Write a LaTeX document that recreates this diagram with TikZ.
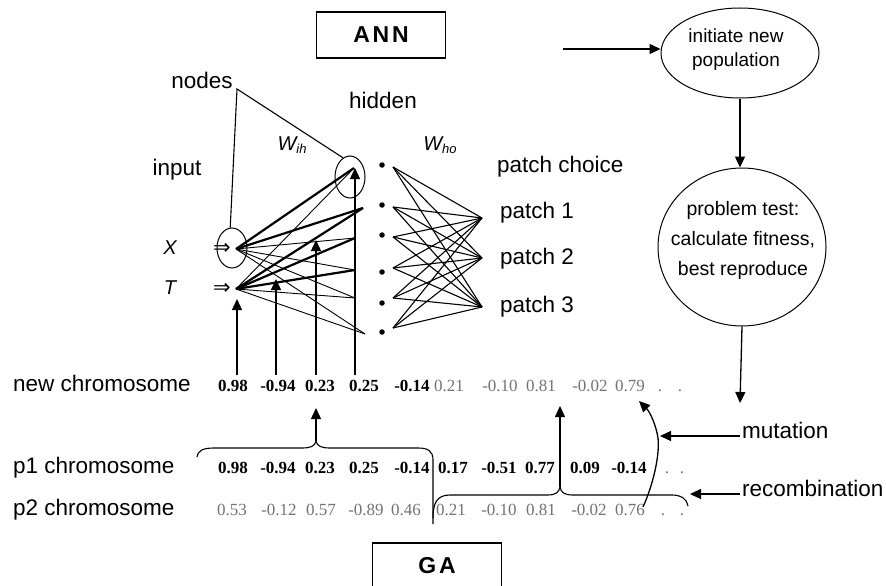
\documentclass[tikz,border=0pt]{standalone}
\usepackage{fontspec}
\setmainfont{Liberation Sans}
\newfontfamily\tms{Liberation Serif}
\newfontfamily\djv{DejaVu Sans}
\usetikzlibrary{arrows.meta,shapes.geometric}
\begin{document}
\begin{tikzpicture}[x=1pt,y=-1pt,
  lbl/.style={font=\fontsize{22.5}{26}\selectfont, inner sep=0pt},
  ital/.style={font=\itshape\fontsize{20}{24}\selectfont, inner sep=0pt},
  bval/.style={font=\tms\bfseries\fontsize{17}{18}\selectfont, inner sep=0pt, anchor=mid},
  lval/.style={font=\tms\fontsize{17}{18}\selectfont, text=black!55, inner sep=0pt, anchor=mid},
  arr/.style={-{Triangle[length=11pt,width=10pt]}, line width=1.3pt},
  thinw/.style={line width=0.9pt},
  boldw/.style={line width=2.2pt},
  conn/.style={line width=1.1pt},
  dot/.style={circle, fill, inner sep=0pt, minimum size=5.5pt},
  boxed/.style={draw, line width=1.3pt, minimum width=129pt, minimum height=46pt, inner sep=0pt,
     font=\bfseries\fontsize{23}{26}\selectfont\addfontfeatures{LetterSpace=12}},
  ell/.style={draw, ellipse, line width=1pt, inner sep=0pt},
  dbl/.style={inner sep=0pt, font=\djv\fontsize{21}{22}\selectfont}
]
\useasboundingbox (0,0) rectangle (886,586);

% boxes
\node[boxed] (ann) at (381,35) {ANN};
\node[boxed] (ga) at (437,566) {GA};

% labels
\node[lbl] (nodes) at (202,80) {nodes};
\node[lbl] (hidden) at (383,100) {hidden};
\node[lbl] (input) at (177,170) {input};
\node[lbl, anchor=mid west] (pchoice) at (497,170) {patch choice};
\node[lbl, anchor=mid west] (p1t) at (500,216) {patch 1};
\node[lbl, anchor=mid west] (p2t) at (500,262) {patch 2};
\node[lbl, anchor=mid west] (p3t) at (500,310) {patch 3};
\node[ital] (wih) at (292,145) {W\raisebox{-3pt}{\fontsize{13}{14}\selectfont ih}};
\node[ital] (who) at (440,145) {W\raisebox{-3pt}{\fontsize{13}{14}\selectfont ho}};
\node[ital] (xl) at (170,248) {X};
\node[ital] (tl) at (170,288) {T};
\node[dbl] (xa) at (222,249) {⇒};
\node[dbl] (ta) at (222,289) {⇒};

% network points
\coordinate (X) at (236,249);
\coordinate (T) at (236,289);
\coordinate (h1) at (354,168);
\coordinate (h2) at (363,208);
\coordinate (h3) at (355,238);
\coordinate (h4) at (355,270);
\coordinate (h5) at (355,298);
\coordinate (h6) at (365,334);
\node[ell, minimum width=30pt, minimum height=40pt] (xell) at (232,248) {};
\node[ell, minimum width=30pt, minimum height=42pt] (hell) at (350,177) {};
\coordinate (nv) at (237,89);
\draw[conn] (xell.95) -- (nv) -- (hell.110);

% hidden dots
\foreach \i/\y in {1/165,2/205,3/235,4/272,5/303,6/332}{
  \node[dot] (d\i) at (382,\y) {};
}
% input -> hidden
\draw[boldw] (X) -- (h1);
\draw[boldw] (X) -- (h2);
\draw[thinw] (X) -- (h3);
\draw[thinw] (X) -- (h4);
\draw[thinw] (X) -- (h5);
\draw[thinw] (X) -- (h6);
\draw[thinw] (T) -- (h1);
\draw[boldw] (T) -- (h2);
\draw[boldw] (T) -- (h3);
\draw[boldw] (T) -- (h4);
\draw[thinw] (T) -- (h5);
\draw[thinw] (T) -- (h6);

% hidden -> output
\foreach \i/\y in {1/167,2/207,3/237,4/268,5/298,6/328}{
  \coordinate (s\i) at (393,\y);
}
\coordinate (o1) at (482,218);
\coordinate (o2) at (482,258);
\coordinate (o3) at (482,307);
\foreach \i in {1,...,6}{
  \foreach \j in {1,2,3}{
    \draw[conn] (s\i) -- (o\j);
  }
}

% chromosome labels
\node[lbl, anchor=mid west] (newc) at (13,389) {new chromosome};
\node[lbl, anchor=mid west] (p1c) at (13,471) {p1 chromosome};
\node[lbl, anchor=mid west] (p2c) at (13,513) {p2 chromosome};

% new chromosome values
\node[bval] (n1) at (233,389) {0.98};
\node[bval] (n2) at (278,389) {-0.94};
\node[bval] (n3) at (320,389) {0.23};
\node[bval] (n4) at (364,389) {0.25};
\node[bval] (n5) at (412,389) {-0.14};
\node[lval] (n6) at (449,389) {0.21};
\node[lval] (n7) at (500,389) {-0.10};
\node[lval] (n8) at (541,389) {0.81};
\node[lval] (n9) at (590,389) {-0.02};
\node[lval] (n10) at (630,389) {0.79};
\node[lval] (n11) at (660,389) {.};
\node[lval] (n12) at (680,389) {.};
% p1 values
\node[bval] (a1) at (233,471) {0.98};
\node[bval] (a2) at (278,471) {-0.94};
\node[bval] (a3) at (320,471) {0.23};
\node[bval] (a4) at (364,471) {0.25};
\node[bval] (a5) at (412,471) {-0.14};
\node[bval] (a6) at (453,471) {0.17};
\node[bval] (a7) at (499,471) {-0.51};
\node[bval] (a8) at (540,471) {0.77};
\node[bval] (a9) at (585,471) {0.09};
\node[bval] (a10) at (629,471) {-0.14};
\node[lval] (a11) at (667,471) {.};
\node[lval] (a12) at (682,471) {.};
% p2 values
\node[lval] (b1) at (232,513) {0.53};
\node[lval] (b2) at (279,513) {-0.12};
\node[lval] (b3) at (321,513) {0.57};
\node[lval] (b4) at (366,513) {-0.89};
\node[lval] (b5) at (406,513) {0.46};
\node[lval] (b6) at (451,513) {0.21};
\node[lval] (b7) at (499,513) {-0.10};
\node[lval] (b8) at (541,513) {0.81};
\node[lval] (b9) at (589,513) {-0.02};
\node[lval] (b10) at (630,513) {0.76};
\node[lval] (b11) at (663,513) {.};
\node[lval] (b12) at (682,513) {.};

% vertical arrows chromosome -> weights
\coordinate (vb1) at (237,375); \coordinate (vt1) at (237,299);
\coordinate (vb2) at (276,375); \coordinate (vt2) at (276,279);
\coordinate (vb3) at (316,375); \coordinate (vt3) at (316,240);
\coordinate (vb4) at (355,375); \coordinate (vt4) at (355,168);
\foreach \i in {1,...,4}{
  \draw[arr] (vb\i) -- (vt\i);
}

% braces
\draw[conn] (197,457) .. controls (198,450) and (204,448) .. (214,448) -- (302,448)
  .. controls (311,448) and (315,446) .. (316,441)
  .. controls (317,446) and (321,448) .. (330,448) -- (418,448)
  .. controls (428,448) and (433,451) .. (433,460) -- (433,524);
\coordinate (ub) at (316,441);
\coordinate (ubt) at (316,408);
\draw[arr] (ub) -- (ubt);

\draw[conn] (433,518) .. controls (433,503) and (437,495) .. (450,495) -- (547,495)
  .. controls (555,495) and (559,493) .. (560,487)
  .. controls (561,493) and (565,495) .. (573,495) -- (672,495)
  .. controls (681,495) and (687,499) .. (688,506);
\coordinate (lb) at (560,487);
\coordinate (lbt) at (560,406);
\draw[arr] (lb) -- (lbt);

% mutation
\coordinate (ms) at (643,507);
\coordinate (mm) at (658,438);
\coordinate (me) at (639,401);
\draw[arr] (ms) .. controls (653,485) and (660,455) .. (mm) .. controls (656,425) and (650,412) .. (me);
\node[lbl, anchor=mid west] (mut) at (742,436) {mutation};
\coordinate (mutq) at (740,436);
\coordinate (mutp) at (660,436);
\draw[arr] (mutq) -- (mutp);
\node[lbl, anchor=mid west] (rec) at (742,494) {recombination};
\coordinate (recq) at (740,494);
\coordinate (recp) at (690,494);
\draw[arr] (recq) -- (recp);

% GA loop
\node[ell, minimum width=158pt, minimum height=90pt] (init) at (740,53) {};
\node[inner sep=0pt, align=center, font=\fontsize{19}{24}\selectfont] (inittxt) at (736,50) {initiate new\\population};
\node[ell, minimum width=168pt, minimum height=158pt] (test) at (742,247) {};
\node[inner sep=0pt, align=center, font=\fontsize{19.5}{30}\selectfont] (testtxt) at (743,240) {problem test:\\calculate fitness,\\best reproduce};
\coordinate (inf) at (563,49);
\draw[arr] (inf) -- (inf -| init.west);
\draw[arr] (init.south) -- (init.south |- test.north);
\coordinate (gout) at (740,403);
\draw[arr] (test.south) -- (gout);
\end{tikzpicture}
\end{document}
